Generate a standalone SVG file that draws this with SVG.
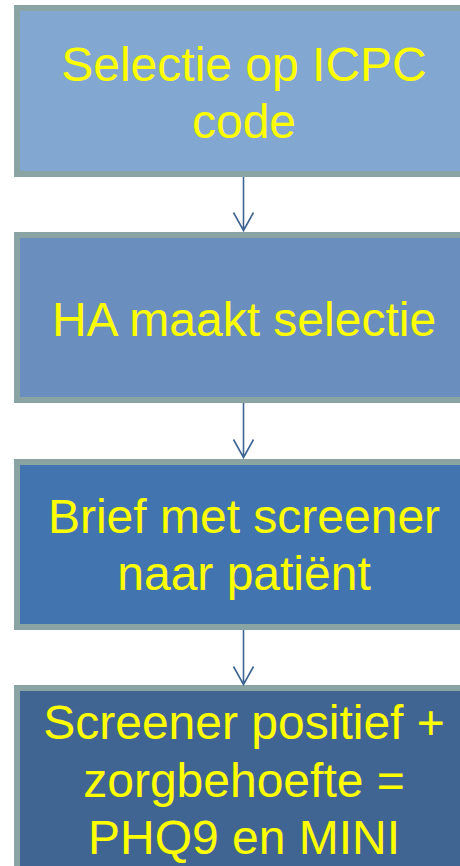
<svg xmlns="http://www.w3.org/2000/svg" width="460" height="866" viewBox="0 0 460 866">
  <defs>
    <style>
      .box { stroke: #8AA3A3; stroke-width: 6; }
      .label { font-family: "Liberation Sans", Arial, sans-serif; font-size: 48px; fill: #FFFF00; text-anchor: middle; }
      .conn { stroke: #3F6593; stroke-width: 1.6; fill: none; }
    </style>
  </defs>
  <rect width="460" height="866" fill="#FFFFFF"/>

  <g id="step-selectie-icpc">
    <rect class="box" x="17" y="8" width="454" height="166" fill="#82A7D0"/>
    <text class="label" x="244" y="80.5">Selectie op ICPC</text>
    <text class="label" x="244" y="138">code</text>
  </g>

  <g id="step-ha-selectie">
    <rect class="box" x="17" y="235" width="454" height="165" fill="#6A8FBF"/>
    <text class="label" x="244" y="335.5">HA maakt selectie</text>
  </g>

  <g id="step-brief-screener">
    <rect class="box" x="17" y="462" width="454" height="165" fill="#4275B0"/>
    <text class="label" x="244" y="533">Brief met screener</text>
    <text class="label" x="244" y="590">naar patiënt</text>
  </g>

  <g id="step-screener-positief">
    <rect class="box" x="17" y="688" width="454" height="200" fill="#416593"/>
    <text class="label" x="244" y="739">Screener positief +</text>
    <text class="label" x="244" y="796.5">zorgbehoefte =</text>
    <text class="label" x="244" y="854">PHQ9 en MINI</text>
  </g>

  <g id="connectors">
    <path class="conn" d="M243.5 177 V230.5 M233.5 212.5 L243.5 230.5 L253.5 212.5"/>
    <path class="conn" d="M243.5 403 V457.5 M233.5 439.5 L243.5 457.5 L253.5 439.5"/>
    <path class="conn" d="M243.5 630 V684.5 M233.5 666.5 L243.5 684.5 L253.5 666.5"/>
  </g>
</svg>
